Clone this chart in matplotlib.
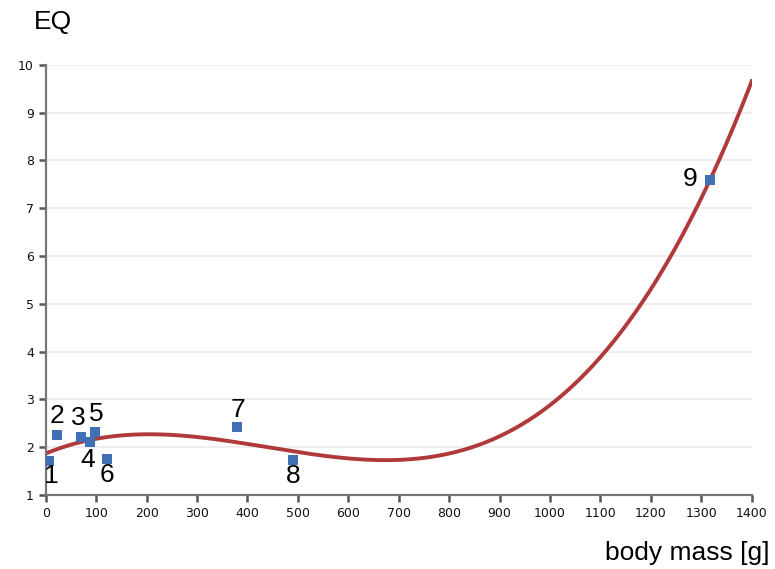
import matplotlib.pyplot as plt
import numpy as np

# Data
labels = ["1", "2", "3", "4", "5", "6", "7", "8", "9"]
body_mass = [6, 22, 69, 87, 97, 121, 379, 490, 1317]
eq = [1.71, 2.26, 2.21, 2.11, 2.32, 1.75, 2.42, 1.73, 7.59]

# label offsets (pixels) from each point
offsets = [(3, -15), (0, 19), (-2, 19), (-2, -18), (2, 18), (0, -16), (1, 17), (0, -16), (-20, 1)]

fig = plt.figure(figsize=(7.75, 5.69), dpi=100)
ax = fig.add_axes([0.059, 0.130, 0.911, 0.756])

# cubic trend line fitted to the points
coef = np.polyfit(body_mass, eq, 3)
xs = np.linspace(0, 1400, 400)
ax.plot(xs, np.polyval(coef, xs), color="#b03a3a", lw=2.8, zorder=2)

ax.scatter(body_mass, eq, marker="s", s=48, color="#3f6fb5", zorder=3, linewidths=0)

for lab, x, y, (dx, dy) in zip(labels, body_mass, eq, offsets):
    ax.annotate(lab, (x, y), xytext=(dx * 0.72, dy * 0.72), textcoords="offset points",
                ha="center", va="center", fontsize=19, family="Liberation Sans", zorder=4)

ax.set_xlim(0, 1400)
ax.set_ylim(1, 10)
ax.set_xticks(range(0, 1401, 100))
ax.set_yticks(range(1, 11))
ax.grid(axis="y", color="#ebebeb", lw=1.2)
ax.set_axisbelow(True)

for side in ["top", "right"]:
    ax.spines[side].set_visible(False)
for side in ["left", "bottom"]:
    ax.spines[side].set_color("#777777")
    ax.spines[side].set_linewidth(1.6)
ax.tick_params(colors="#555555", width=1.8, length=5, labelcolor="#111111", labelsize=9)

fig.text(0.044, 0.962, "EQ", fontsize=19, family="Liberation Sans", ha="left", va="center")
fig.text(0.993, 0.028, "body mass [g]", fontsize=19, family="Liberation Sans", ha="right", va="center")

fig.savefig("out.png", dpi=100)
